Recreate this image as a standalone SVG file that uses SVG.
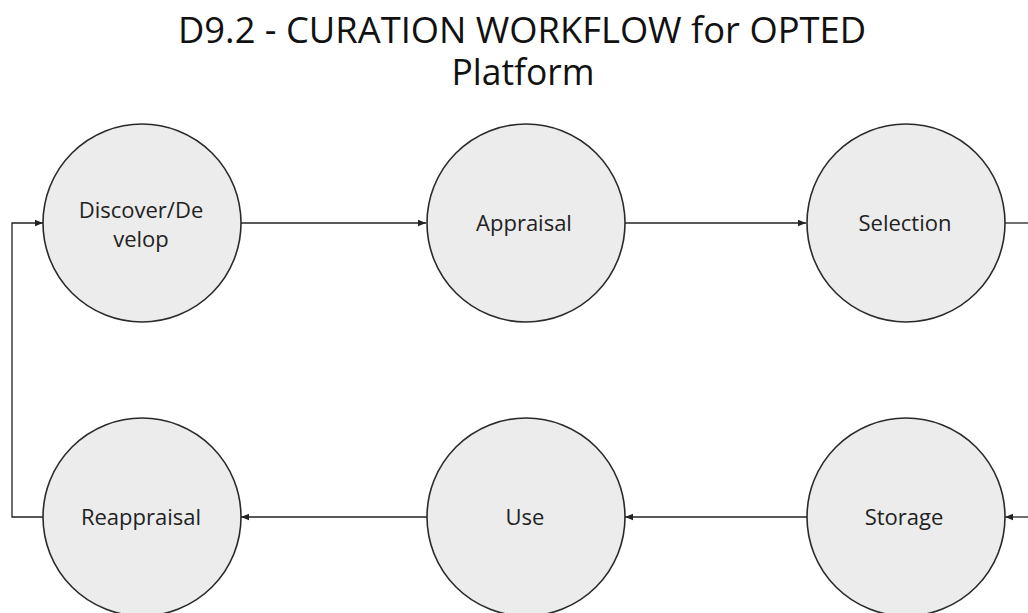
<svg xmlns="http://www.w3.org/2000/svg" width="1028" height="613" viewBox="0 0 1028 613">
<defs>
<marker id="ah" viewBox="0 0 10 10" refX="10" refY="5" markerWidth="8" markerHeight="8" markerUnits="userSpaceOnUse" orient="auto">
<path d="M0,1 L10,5 L0,9 Z" fill="#222"/>
</marker>
<style>
.node circle{fill:#ececec;stroke:#2a2a2a;stroke-width:1.6}
.node text{font-family:"Open Sans","DejaVu Sans",sans-serif;font-size:22px;fill:#222;text-anchor:middle}
.title{font-family:"Open Sans","DejaVu Sans",sans-serif;font-size:36px;fill:#111;text-anchor:middle}
.conn path{fill:none;stroke:#222;stroke-width:1.3}
</style>
</defs>
<rect width="1028" height="613" fill="#fff"/>
<text class="title" x="522" y="43" textLength="688" lengthAdjust="spacingAndGlyphs">D9.2 - CURATION WORKFLOW for OPTED</text>
<text class="title" x="523" y="85" textLength="143" lengthAdjust="spacingAndGlyphs">Platform</text>
<g class="conn">
<path d="M241,223 L426,223" marker-end="url(#ah)"/>
<path d="M625,223 L806,223" marker-end="url(#ah)"/>
<path d="M1004,223 L1028,223"/>
<path d="M1028,517 L1005,517" marker-end="url(#ah)"/>
<path d="M807,517 L625,517" marker-end="url(#ah)"/>
<path d="M427,517 L241,517" marker-end="url(#ah)"/>
<path d="M43,517 L12,517 L12,223 L43,223" marker-end="url(#ah)"/>
</g>
<g id="discover" class="node"><circle cx="142" cy="223" r="99"/><text x="141" y="218">Discover/De</text><text x="141" y="247">velop</text></g>
<g id="appraisal" class="node"><circle cx="526" cy="223" r="99"/><text x="524" y="231">Appraisal</text></g>
<g id="selection" class="node"><circle cx="906" cy="223" r="99"/><text x="905" y="231">Selection</text></g>
<g id="reappraisal" class="node"><circle cx="142" cy="517" r="99"/><text x="141" y="525">Reappraisal</text></g>
<g id="use" class="node"><circle cx="526" cy="517" r="99"/><text x="525" y="525">Use</text></g>
<g id="storage" class="node"><circle cx="906" cy="517" r="99"/><text x="904" y="525">Storage</text></g>
</svg>
